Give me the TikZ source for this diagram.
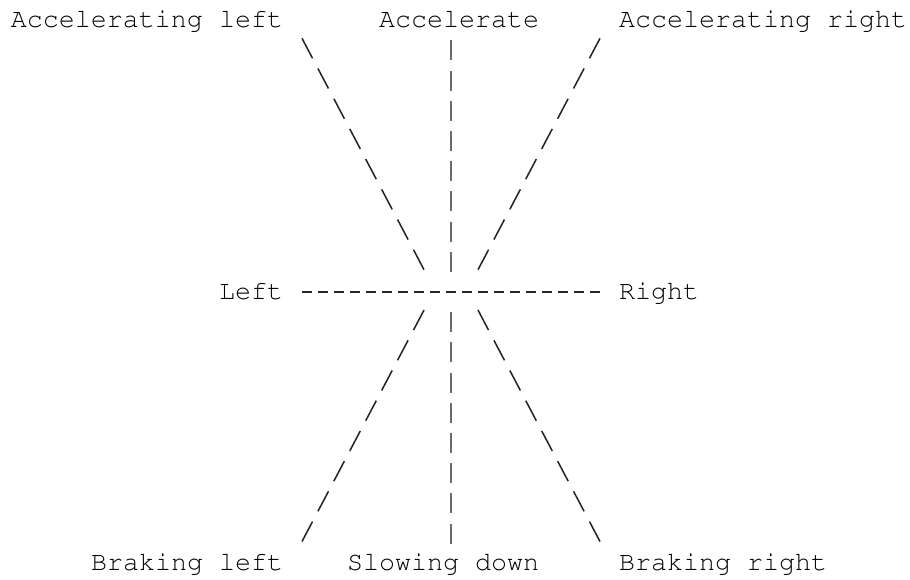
\documentclass[tikz,border=0pt]{standalone}
\usepackage[T1]{fontenc}
\begin{document}
\begin{tikzpicture}[x=0.75pt,y=-0.75pt,
  lbl/.style={anchor=base west, inner sep=0pt, outer sep=0pt,
    font=\fontfamily{pcr}\fontsize{20pt}{22.65pt}\selectfont, text=black},
  barline/.style={draw=black!58, line width=1.7pt, dash pattern=on 15pt off 7.65pt},
  slashline/.style={draw=black!85, line width=1.15pt, dash pattern=on 16.95pt off 8.66pt},
  hyphenline/.style={draw=black!85, line width=1.2pt, dash pattern=on 6.975pt off 5.025pt}
]
\useasboundingbox (0,0) rectangle (910,579);
% labels
\node[lbl] (accl) at (11,27.3) {Accelerating left};
\node[lbl] (acc)  at (379,27.3) {Accelerate};
\node[lbl] (accr) at (619,27.3) {Accelerating right};
\node[lbl] (left) at (219,299.1) {Left};
\node[lbl] (right) at (619,299.1) {Right};
\node[lbl] (brl)  at (91,570.9) {Braking left};
\node[lbl] (slow) at (347,570.9) {Slowing down};
\node[lbl] (brr)  at (619,570.9) {Braking right};
% connector ends
\coordinate (acc-a) at (451,40.3);   \coordinate (acc-b) at (451,271.7);
\coordinate (slow-a) at (451,312.1); \coordinate (slow-b) at (451,543.5);
\coordinate (left-a) at (302.35,292.1); \coordinate (right-a) at (599.65,292.1);
\coordinate (accl-a) at (302,38.3);  \coordinate (accl-b) at (424,269.7);
\coordinate (accr-a) at (600,38.3);  \coordinate (accr-b) at (478,269.7);
\coordinate (brl-a) at (424,310.1);  \coordinate (brl-b) at (302,541.5);
\coordinate (brr-a) at (478,310.1);  \coordinate (brr-b) at (600,541.5);
% connectors
\draw[barline] (acc-a) -- (acc-b);
\draw[barline] (slow-a) -- (slow-b);
\draw[hyphenline] (left-a) -- (right-a);
\draw[slashline] (accl-a) -- (accl-b);
\draw[slashline] (accr-a) -- (accr-b);
\draw[slashline] (brl-a) -- (brl-b);
\draw[slashline] (brr-a) -- (brr-b);
\end{tikzpicture}
\end{document}
